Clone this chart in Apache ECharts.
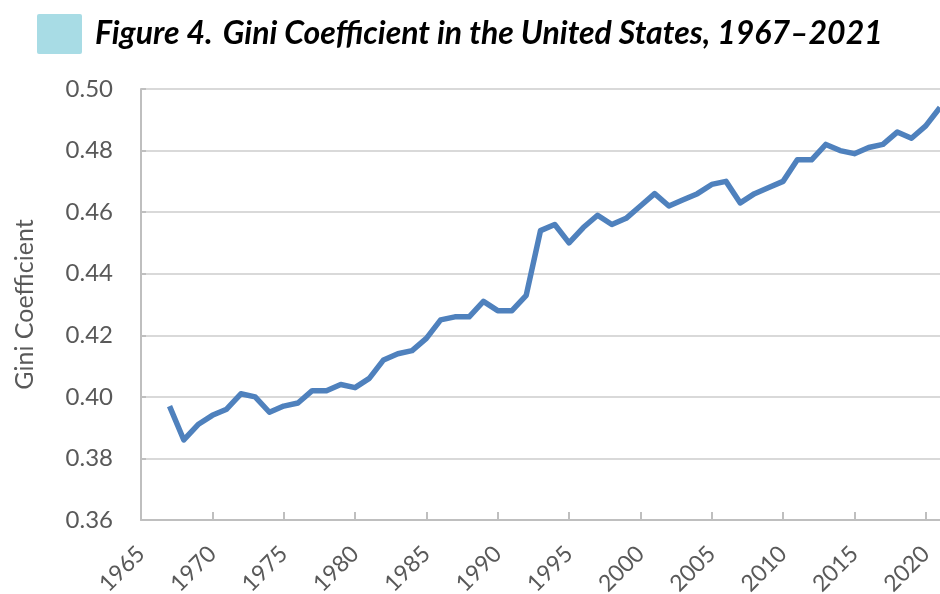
<!DOCTYPE html>
<html>
<head>
<meta charset="utf-8">
<script src="https://cdn.jsdelivr.net/npm/echarts@6/dist/echarts.min.js"></script>
<style>
  html, body { margin: 0; padding: 0; background: #fff; }
  #chart { width: 940px; height: 594px; }
</style>
</head>
<body>
<div id="chart"></div>
<script>
// Gini coefficient
const years = [
  1967, 1968, 1969, 1970, 1971, 1972, 1973, 1974, 1975, 1976,
  1977, 1978, 1979, 1980, 1981, 1982, 1983, 1984, 1985, 1986,
  1987, 1988, 1989, 1990, 1991, 1992, 1993, 1994, 1995, 1996,
  1997, 1998, 1999, 2000, 2001, 2002, 2003, 2004, 2005, 2006,
  2007, 2008, 2009, 2010, 2011, 2012, 2013, 2014, 2015, 2016,
  2017, 2018, 2019, 2020, 2021
];
const gini = [
  0.397, 0.386, 0.391, 0.394, 0.396, 0.401, 0.400, 0.395, 0.397, 0.398,
  0.402, 0.402, 0.404, 0.403, 0.406, 0.412, 0.414, 0.415, 0.419, 0.425,
  0.426, 0.426, 0.431, 0.428, 0.428, 0.433, 0.454, 0.456, 0.450, 0.455,
  0.459, 0.456, 0.458, 0.462, 0.466, 0.462, 0.464, 0.466, 0.469, 0.470,
  0.463, 0.466, 0.468, 0.470, 0.477, 0.477, 0.482, 0.480, 0.479, 0.481,
  0.482, 0.486, 0.484, 0.488, 0.494
];

const FONT = 'Lato, "Open Sans", sans-serif';
const GREY = '#595959';

const chart = echarts.init(document.getElementById('chart'));

let option = {
  animation: false,
  backgroundColor: '#fff',
  title: {
    text: '{b|Figure 4.}  {n|Gini Coefficient in the United States, 1967–2021}',
    left: 90,
    top: 13,
    textStyle: {
      rich: {
        b: { fontFamily: FONT, fontSize: 32, fontWeight: 'bold', fontStyle: 'italic', color: '#000' },
        n: { fontFamily: FONT, fontSize: 32, fontStyle: 'italic', color: '#000' }
      }
    }
  },
  graphic: [
    {
      type: 'rect',
      left: 37,
      top: 14,
      shape: { width: 45, height: 40, r: 2 },
      style: { fill: '#a8dce5' }
    }
  ],
  grid: {
    left: 141,
    right: 0,
    top: 89,
    bottom: 74,
    outerBoundsMode: 'none'
  },
  xAxis: {
    type: 'value',
    min: 1965,
    max: 2021,
    interval: 5,
    axisLine: { show: true, lineStyle: { color: '#bfbfbf', width: 2 } },
    axisTick: { show: true, inside: true, length: 8, lineStyle: { color: '#bfbfbf', width: 2 } },
    splitLine: { show: false },
    axisLabel: {
      rotate: 45,
      margin: 30,
      color: GREY,
      fontFamily: FONT,
      fontSize: 23,
      showMaxLabel: false,
      formatter: v => String(v)
    }
  },
  yAxis: {
    type: 'value',
    min: 0.36,
    max: 0.50,
    interval: 0.02,
    name: 'Gini Coefficient',
    nameLocation: 'middle',
    nameGap: 104,
    nameRotate: 90,
    nameTextStyle: { color: GREY, fontFamily: FONT, fontSize: 25 },
    axisLine: { show: true, lineStyle: { color: '#bfbfbf', width: 2 } },
    axisTick: { show: true, inside: true, length: 5, lineStyle: { color: '#bfbfbf', width: 2 } },
    splitLine: { show: true, lineStyle: { color: '#d9d9d9', width: 2 } },
    axisLabel: {
      margin: 28,
      color: GREY,
      fontFamily: FONT,
      fontSize: 24,
      formatter: v => v.toFixed(2)
    }
  },
  series: [
    {
      type: 'line',
      data: years.map((y, i) => [y, gini[i]]),
      showSymbol: false,
      symbol: 'none',
      lineStyle: { color: '#4f81bd', width: 5.5, join: 'round' },
      clip: true
    }
  ]
};

chart.setOption(option);
</script>
</body>
</html>
